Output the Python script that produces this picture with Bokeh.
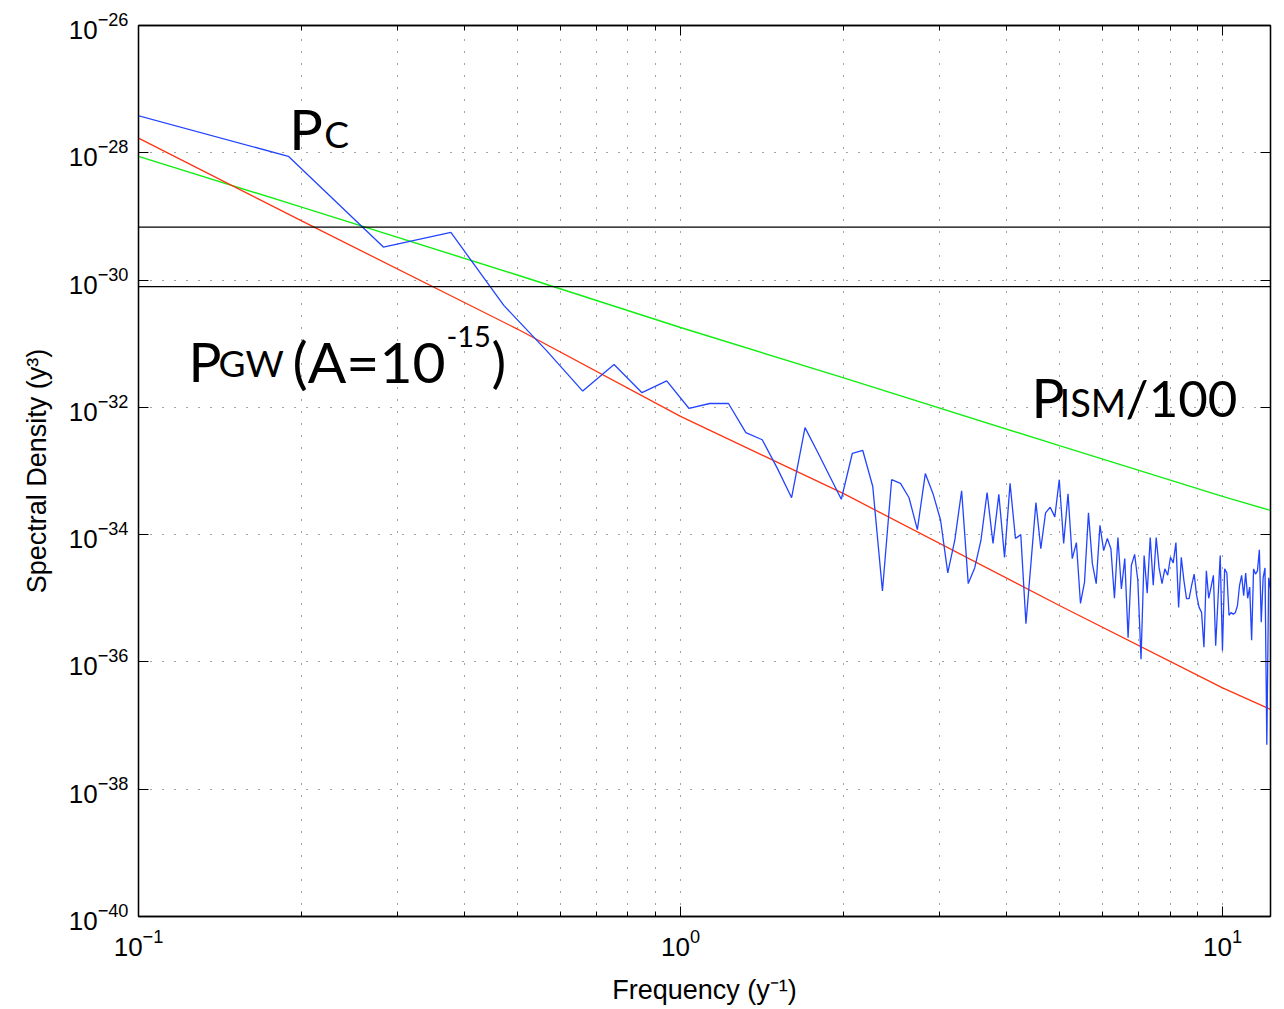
from bokeh.plotting import figure
from bokeh.models import FixedTicker, LogAxis, Span, Label, CustomJSTickFormatter
from bokeh.embed import file_html
from bokeh.resources import INLINE

# ---------------- data ----------------
freq = [0.094, 0.189, 0.283, 0.377, 0.472, 0.566, 0.660, 0.754, 0.849, 0.943,
        1.037, 1.132, 1.226, 1.320, 1.415, 1.509, 1.603, 1.697, 1.792, 1.886,
        1.980, 2.075, 2.169, 2.263, 2.358, 2.452, 2.546, 2.640, 2.735, 2.829,
        2.923, 3.018, 3.112, 3.206, 3.301, 3.395, 3.489, 3.583, 3.678, 3.772,
        3.866, 3.961, 4.055, 4.149, 4.244, 4.338, 4.432, 4.526, 4.621, 4.715,
        4.809, 4.904, 4.998, 5.092, 5.187, 5.281, 5.375, 5.469, 5.564, 5.658,
        5.752, 5.847, 5.941, 6.035, 6.130, 6.224, 6.318, 6.412, 6.507, 6.601,
        6.695, 6.790, 6.884, 6.978, 7.073, 7.167, 7.261, 7.355, 7.450, 7.544,
        7.638, 7.733, 7.827, 7.921, 8.016, 8.110, 8.204, 8.298, 8.393, 8.487,
        8.581, 8.676, 8.770, 8.864, 8.959, 9.053, 9.147, 9.241, 9.336, 9.430,
        9.524, 9.619, 9.713, 9.807, 9.902, 9.996, 10.090, 10.184, 10.279, 10.373,
        10.467, 10.562, 10.656, 10.750, 10.845, 10.939, 11.033, 11.127, 11.222, 11.316,
        11.410, 11.505, 11.599, 11.693, 11.788, 11.882, 11.976, 12.070, 12.165, 12.259]

p_c = [4.4e-28, 8.8e-29, 3.3e-30, 5.6e-30, 4.0e-31, 7.8e-32, 1.8e-32, 4.7e-32, 1.7e-32, 2.6e-32,
       9.6e-33, 1.15e-32, 1.15e-32, 4.0e-33, 3.1e-33, 1.1e-33, 3.8e-34, 4.8e-33, 1.95e-33, 8.2e-34,
       3.6e-34, 1.9e-33, 2.1e-33, 5.7e-34, 1.3e-35, 7.3e-34, 6.4e-34, 3.8e-34, 1.2e-34, 9.1e-34,
       4.4e-34, 1.7e-34, 2.5e-35, 8.1e-35, 4.9e-34, 1.7e-35, 3.0e-35, 8.1e-35, 4.6e-34, 7.3e-35,
       4.3e-34, 4.4e-35, 6.4e-34, 8.7e-35, 1.0e-34, 4.0e-36, 3.6e-35, 3.2e-34, 6.0e-35, 2.2e-34,
       2.7e-34, 1.9e-34, 7.3e-34, 7.3e-35, 4.4e-34, 4.2e-35, 7.5e-35, 8.3e-36, 1.8e-35, 2.2e-34,
       3.5e-35, 1.7e-35, 1.4e-34, 5.6e-35, 8.7e-35, 6.0e-35, 1.0e-35, 9.0e-35, 1.4e-35, 4.2e-35,
       2.4e-36, 3.3e-35, 4.9e-35, 1.9e-35, 1.1e-36, 4.7e-35, 1.2e-35, 9.0e-35, 1.6e-35, 9.0e-35,
       3.0e-35, 1.7e-35, 2.9e-35, 2.3e-35, 4.4e-35, 3.6e-35, 7.5e-35, 7.2e-36, 4.4e-35, 1.9e-35,
       9.9e-36, 9.9e-36, 1.6e-35, 2.4e-35, 1.1e-35, 7.2e-36, 6.0e-36, 1.7e-36, 2.7e-35, 1.0e-35,
       1.5e-35, 2.3e-35, 1.8e-36, 9.2e-36, 4.7e-35, 1.5e-36, 2.9e-35, 2.5e-35, 5.4e-36, 6.0e-36,
       5.6e-36, 6.0e-36, 7.7e-36, 1.6e-35, 2.3e-35, 1.1e-35, 2.5e-35, 1.0e-35, 1.5e-35, 2.2e-36,
       2.9e-35, 2.4e-35, 2.7e-35, 5.8e-35, 4.2e-36, 2.1e-35, 3.0e-35, 5.0e-38, 2.1e-35, 1.4e-35]

model_freq = [0.1, 0.2, 0.5, 1.0, 2.0, 5.0, 10.0, 12.26]
p_gw = [1.7e-28, 8.5e-30, 1.7e-31, 7.2e-33, 4.4e-34, 7.7e-36, 3.9e-37, 1.8e-37]
p_ism = [8.8e-29, 1.4e-29, 1.2e-30, 1.8e-31, 2.9e-32, 2.5e-33, 4.0e-34, 2.4e-34]

h_levels = [6.8e-30, 7.9e-31]

x_major = [0.1, 1, 10]
x_minor = [0.2, 0.3, 0.4, 0.5, 0.6, 0.7, 0.8, 0.9, 2, 3, 4, 5, 6, 7, 8, 9]
y_major = [1e-40, 1e-38, 1e-36, 1e-34, 1e-32, 1e-30, 1e-28, 1e-26]

# ---------------- figure ----------------
p = figure(x_axis_type="log", y_axis_type="log",
           x_range=(0.1, 12.26), y_range=(1e-40, 1e-26),
           frame_width=1132, frame_height=891,
           min_border_left=138, min_border_right=8, min_border_top=25, min_border_bottom=70,
           output_backend="svg", toolbar_location=None)
p.background_fill_color = "white"
p.border_fill_color = "white"
p.outline_line_color = "black"
p.outline_line_width = 1.3

xt = FixedTicker(ticks=x_major, minor_ticks=x_minor)
yt = FixedTicker(ticks=y_major, minor_ticks=[])
p.xaxis.ticker = xt
p.yaxis.ticker = yt
p.xgrid.ticker = xt
p.ygrid.ticker = yt

for g in (p.xgrid, p.ygrid):
    g.grid_line_color = "#333333"
    g.grid_line_dash = "1 11"
    g.grid_line_width = 1
    g.grid_line_alpha = 0.9
p.xgrid.minor_grid_line_color = "#333333"
p.xgrid.minor_grid_line_dash = "1 11"
p.xgrid.minor_grid_line_alpha = 0.9

for ax in (p.xaxis, p.yaxis):
    ax.axis_line_color = "black"
    ax.axis_line_width = 1.3
    ax.major_tick_in = 10
    ax.major_tick_out = 0
    ax.minor_tick_in = 5
    ax.minor_tick_out = 0
    ax.major_tick_line_color = "black"
    ax.minor_tick_line_color = "black"
    ax.major_label_text_font = "Liberation Sans"
    ax.major_label_text_font_size = "26px"
    ax.major_label_text_color = "black"
    ax.axis_label_text_font = "Liberation Sans"
    ax.axis_label_text_font_size = "27px"
    ax.axis_label_text_font_style = "normal"
    ax.axis_label_text_color = "black"

p.xaxis.axis_label = "Frequency (y⁻¹)"
p.yaxis.axis_label = "Spectral Density (y³)"
p.xaxis.major_label_standoff = 12
p.yaxis.major_label_standoff = 10
p.xaxis.axis_label_standoff = 16
p.yaxis.axis_label_standoff = 14

# box ticks on the right and top (labels hidden)
blank = CustomJSTickFormatter(code="return ' ';")
right = LogAxis(ticker=yt, formatter=blank, major_tick_in=10, major_tick_out=0,
                minor_tick_in=0, minor_tick_out=0,
                major_label_text_font_size="2px", major_label_text_alpha=0, major_label_standoff=0,
                axis_line_color="black", axis_line_width=1.3)
top = LogAxis(ticker=xt, formatter=blank, major_tick_in=10, major_tick_out=0,
              minor_tick_in=5, minor_tick_out=0,
              major_label_text_font_size="2px", major_label_text_alpha=0, major_label_standoff=0,
              axis_line_color="black", axis_line_width=1.3)
p.add_layout(right, "right")
p.add_layout(top, "above")

# ---------------- curves ----------------
p.line(model_freq, p_ism, line_color="#11ee11", line_width=1.4)
p.line(model_freq, p_gw, line_color="#ff3311", line_width=1.3)
p.line(freq, p_c, line_color="#2244ff", line_width=1.3)

for lvl in h_levels:
    p.add_layout(Span(location=lvl, dimension="width", line_color="black", line_width=1.1))

# ---------------- annotations ----------------
FONT = "Lato"
DX0, DY0 = -4, 20
def add_rich(x, y, pieces):
    for text, size, dx, dy in pieces:
        p.add_layout(Label(x=x, y=y, x_offset=dx + DX0, y_offset=dy + DY0, text=text,
                           text_font=FONT, text_font_size=f"{size}px",
                           text_baseline="alphabetic", text_align="left",
                           text_color="black"))

add_rich(0.193, 1.16e-28, [("P", 56, 0, 0), ("C", 37, 35, -5)])
add_rich(0.1258, 2.64e-32, [("P", 55, 0, 0), ("GW", 37, 30, -2), ("(A=10", 57, 104, 0),
                            ("-15", 29, 258, 24), (")", 55, 303, 0)])
add_rich(4.52, 7.0e-33, [("P", 55, 0, 0), ("ISM", 38, 28, -5), ("/100", 51, 94, 0)])

open("out.html", "w").write(file_html(p, INLINE))
